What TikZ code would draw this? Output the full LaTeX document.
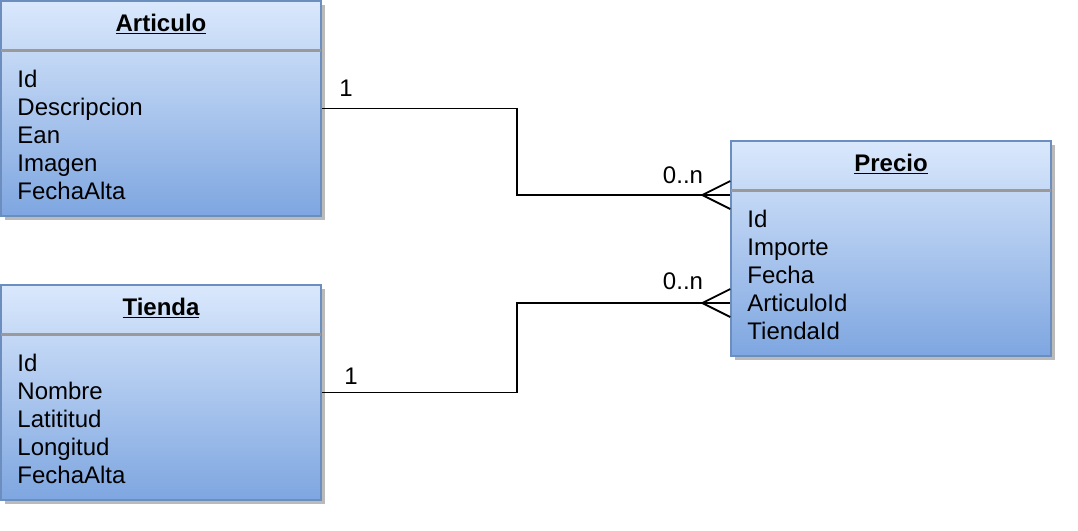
\documentclass[tikz,border=0pt]{standalone}
\usepackage{fontspec}
\setmainfont{Liberation Sans}
\usetikzlibrary{calc,shadows}
\definecolor{topc}{HTML}{DAE8FC}
\definecolor{botc}{HTML}{7EA6E0}
\definecolor{edgec}{HTML}{6C8EBF}
\definecolor{sepc}{HTML}{9A9A9A}
\tikzset{
  entity/.style={draw=edgec, line width=1.5pt, top color=topc, bottom color=botc,
    minimum width=320pt, minimum height=215pt, inner sep=0pt,
    drop shadow={shadow xshift=4pt, shadow yshift=-4pt, fill=black!45, opacity=0.6}},
  title/.style={font=\fontsize{24}{28}\selectfont\bfseries, anchor=base, inner sep=0pt},
  attrs/.style={font=\fontsize{24}{28}\selectfont, align=left, anchor=north west, inner sep=0pt},
  sep/.style={draw=sepc, line width=2.5pt},
  conn/.style={draw=black, line width=1.8pt},
  mult/.style={font=\fontsize{24}{28}\selectfont, inner sep=0pt},
}
\begin{document}
\begin{tikzpicture}[x=1pt,y=-1pt]
\useasboundingbox (0,0) rectangle (1078,530);
% entities
\node[entity] (art) at (161,108.5) {};
\node[entity] (tie) at (161,392.5) {};
\node[entity] (pre) at (891,248.5) {};
% titles
\node[title] (artT) at ($(art.north)+(0,31)$) {\underline{Articulo}};
\node[title] (tieT) at ($(tie.north)+(0,31)$) {\underline{Tienda}};
\node[title] (preT) at ($(pre.north)+(0,31)$) {\underline{Precio}};
% separators
\draw[sep] ($(art.north west)+(1,50)$) -- ($(art.north east)+(-1,50)$);
\draw[sep] ($(tie.north west)+(1,50)$) -- ($(tie.north east)+(-1,50)$);
\draw[sep] ($(pre.north west)+(1,50)$) -- ($(pre.north east)+(-1,50)$);
% attributes
\node[attrs] (artA) at ($(art.north west)+(17,69.5)$) {Id\\Descripcion\\Ean\\Imagen\\FechaAlta};
\node[attrs] (tieA) at ($(tie.north west)+(17,69.5)$) {Id\\Nombre\\Latititud\\Longitud\\FechaAlta};
\node[attrs] (preA) at ($(pre.north west)+(17,69.5)$) {Id\\Importe\\Fecha\\ArticuloId\\TiendaId};
% connection points on Precio
\coordinate (p1) at ($(pre.west)+(0,-53.5)$);
\coordinate (p2) at ($(pre.west)+(0,54.5)$);
% connectors
\draw[conn] (art.east) -- (517,108.5) |- (p1);
\draw[conn] (tie.east) -- (517,392.5) |- (p2);
% crow's feet
\draw[conn] ($(p1)+(0,-14)$) -- ($(p1)+(-28,0)$) -- ($(p1)+(0,14)$);
\draw[conn] ($(p2)+(0,-14)$) -- ($(p2)+(-28,0)$) -- ($(p2)+(0,14)$);
% multiplicities
\node[mult] (m1) at (346,88) {1};
\node[mult] (m2) at (683,175) {0..n};
\node[mult] (m3) at (683,281) {0..n};
\node[mult] (m4) at (351,376) {1};
\end{tikzpicture}
\end{document}
